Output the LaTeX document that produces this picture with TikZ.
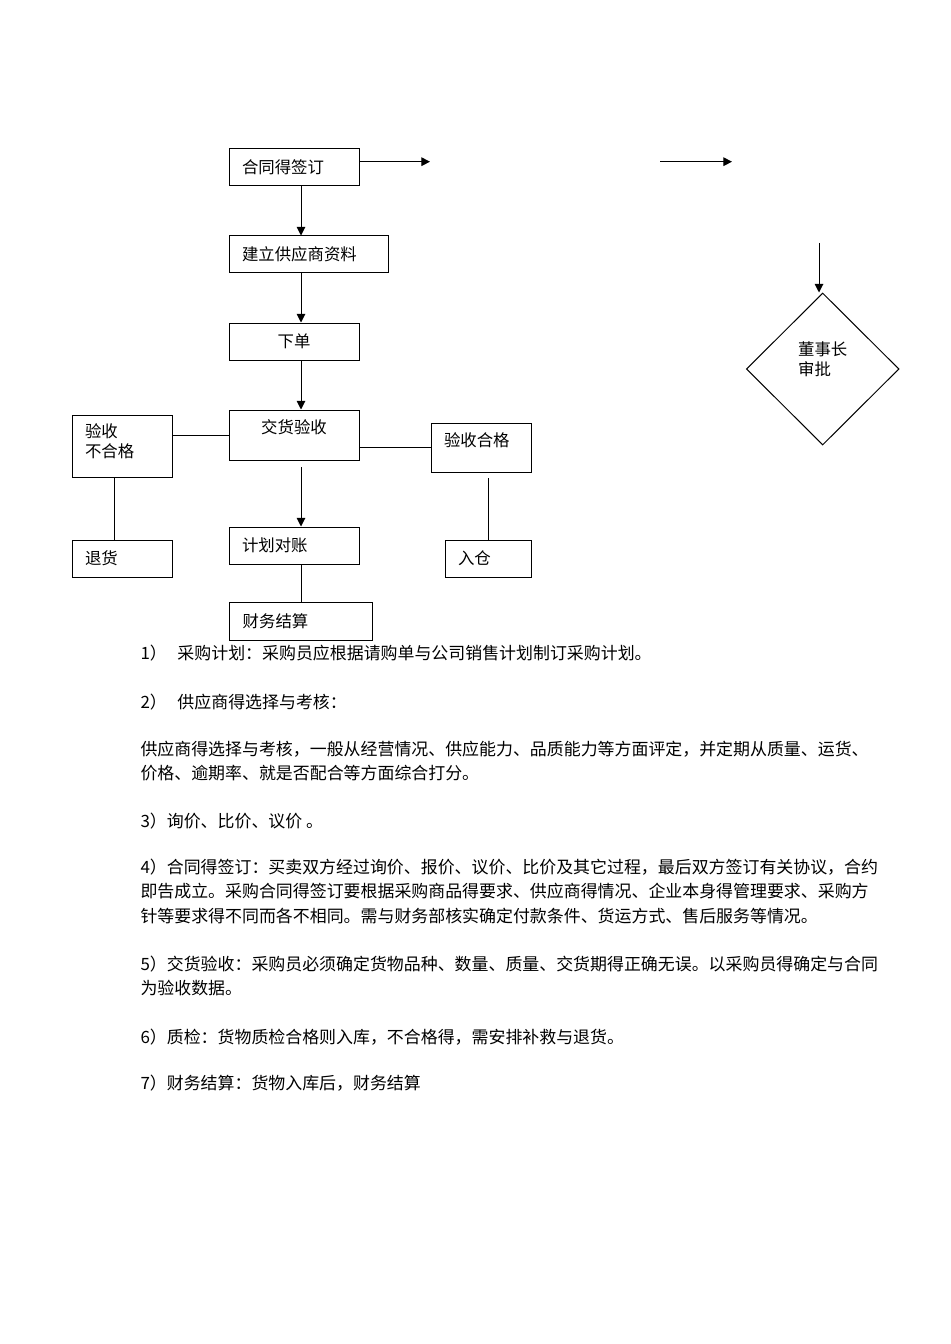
\documentclass[tikz,border=0pt]{standalone}
\usepackage{fontspec}
\setmainfont{Noto Sans CJK SC}
\usetikzlibrary{arrows.meta, shapes.geometric, calc}
\tikzset{
    box/.style={draw, inner xsep=9.75pt, inner ysep=0pt, align=left, font=\fontsize{12.3pt}{15pt}\selectfont},
    arr/.style={-{Triangle[length=6.5pt, width=6.5pt]}},
    para/.style={anchor=west, inner sep=0pt, font=\fontsize{12.7pt}{15pt}\selectfont},
}

\begin{document}
\begin{tikzpicture}[x=0.75pt, y=-0.75pt, line width=0.75pt]
    \useasboundingbox (0,0) rectangle (950,1344);

    \node[box, text width=78pt, minimum height=27.75pt] (sign) at (294, 167.5) {合同得签订};
    \node[box, text width=99.75pt, minimum height=27.75pt] (supplier) at (308.5, 254.5) {建立供应商资料};
    \node[box, text width=78pt, minimum height=27.75pt, align=center] (order) at (294, 341.5) {下单};
    \node[box, text width=78pt, minimum height=37.5pt, align=center, text depth=12pt] (check) at (294, 435) {交货验收};

    \node[box, text width=55.5pt, minimum height=46.5pt, text depth=22.5pt] (reject) at (122, 446) {验收\\不合格};
    \node[box, text width=55.5pt, minimum height=36.75pt, text depth=12pt] (pass) at (481, 447.5) {验收合格};
    \node[box, text width=55.5pt, minimum height=27.75pt] (returns) at (122, 558.5) {退货};
    \node[box, text width=78pt, minimum height=27.75pt] (recon) at (294, 545.5) {计划对账};
    \node[box, text width=87.75pt, minimum height=28.5pt] (finance) at (301.2, 621) {财务结算};
    \node[box, text width=45pt, minimum height=27.75pt] (store) at (488, 558.5) {入仓};

    \node[diamond, draw, minimum width=114.5pt, minimum height=114pt, inner sep=0pt, align=left,
          text depth=15pt, font=\fontsize{12.3pt}{15pt}\selectfont] (dir) at (822.7, 369) {董事长\\审批};

    \coordinate (spine) at (301, 0);
    \coordinate (lcol) at (114.7, 0);
    \coordinate (a1) at (430, 161.7);
    \coordinate (b1) at (660, 161.7);
    \coordinate (b2) at (732, 161.7);
    \coordinate (c1) at (819, 243);

    \draw[arr] (sign.east |- a1) -- (a1);
    \draw[arr] (b1) -- (b2);
    \draw[arr] (c1) -- (c1 |- dir.north);
    \draw[arr] (spine |- sign.south) -- (spine |- supplier.north);
    \draw[arr] (spine |- supplier.south) -- (spine |- order.north);
    \draw[arr] (spine |- order.south) -- (spine |- check.north);
    \draw[arr] ($(spine |- check.south)+(0,6.7)$) -- (spine |- recon.north);
    \draw (spine |- recon.south) -- (spine |- finance.north);
    \draw (check.west) -- (check.west -| reject.east);
    \draw (check.east |- pass.west) -- (pass.west);
    \draw (lcol |- reject.south) -- (lcol |- returns.north);
    \draw ($(pass.south -| store.north)+(0,5.7)$) -- (store.north);

    % notes under the chart
    \node[para] (p1) at (140, 653) {1）\hspace{8pt}采购计划：采购员应根据请购单与公司销售计划制订采购计划。};
    \node[para] (p2) at (140, 701.7) {2）\hspace{8pt}供应商得选择与考核：};
    \node[para] (p3) at (140, 749) {供应商得选择与考核，一般从经营情况、供应能力、品质能力等方面评定，并定期从质量、运货、};
    \node[para] (p4) at (140, 773) {价格、逾期率、就是否配合等方面综合打分。};
    \node[para] (p5) at (140, 821) {3）询价、比价、议价 。};
    \node[para] (p6) at (140, 867) {4）合同得签订：买卖双方经过询价、报价、议价、比价及其它过程，最后双方签订有关协议，合约};
    \node[para] (p7) at (140, 891.5) {即告成立。采购合同得签订要根据采购商品得要求、供应商得情况、企业本身得管理要求、采购方};
    \node[para] (p8) at (140, 916) {针等要求得不同而各不相同。需与财务部核实确定付款条件、货运方式、售后服务等情况。};
    \node[para] (p9) at (140, 964) {5）交货验收：采购员必须确定货物品种、数量、质量、交货期得正确无误。以采购员得确定与合同};
    \node[para] (p10) at (140, 988) {为验收数据。};
    \node[para] (p11) at (140, 1036.7) {6）质检：货物质检合格则入库，不合格得，需安排补救与退货。};
    \node[para] (p12) at (140, 1083) {7）财务结算：货物入库后，财务结算};
\end{tikzpicture}
\end{document}
